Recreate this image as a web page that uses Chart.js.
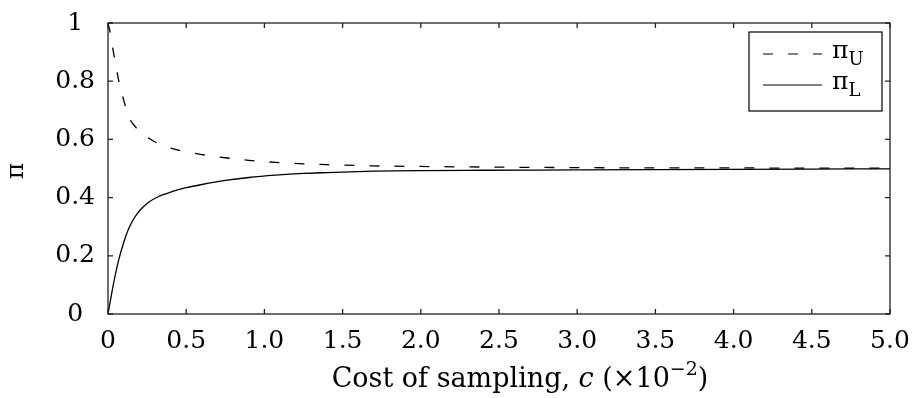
<!DOCTYPE html>
<html>
<head>
<meta charset="utf-8">
<script src="https://cdn.jsdelivr.net/npm/chart.js@4.4.1/dist/chart.umd.min.js"></script>
<style>
  html, body { margin: 0; padding: 0; background: #fff; }
  #wrap { width: 914px; height: 398px; }
</style>
</head>
<body>
<div id="wrap"><canvas id="piChart"></canvas></div>
<script>
'use strict';

// Cost of sampling c (x10^-2) and the two thresholds
var costValues = [0, 0.015, 0.036, 0.068, 0.10, 0.132, 0.174, 0.21, 0.26, 0.32, 0.37, 0.45, 0.5, 0.6,
                  0.75, 0.9, 1.07, 1.25, 1.4, 1.7, 2.0, 2.4, 3.0, 3.5, 4.0, 4.5, 5.0];
var piUpper    = [1.0, 0.965, 0.896, 0.804, 0.736, 0.678, 0.644, 0.623, 0.604, 0.586, 0.575, 0.563, 0.557, 0.548,
                  0.537, 0.528, 0.521, 0.516, 0.513, 0.509, 0.507, 0.505, 0.503, 0.502, 0.502, 0.501, 0.501];
var piLower    = [0, 0.045, 0.106, 0.185, 0.245, 0.293, 0.335, 0.360, 0.384, 0.403, 0.413, 0.427, 0.434, 0.445,
                  0.459, 0.469, 0.477, 0.483, 0.486, 0.491, 0.493, 0.494, 0.495, 0.496, 0.497, 0.498, 0.499];

var xTickLabels = ['0', '0.5', '1.0', '1.5', '2.0', '2.5', '3.0', '3.5', '4.0', '4.5', '5.0'];
var yTickLabels = ['0', '0.2', '0.4', '0.6', '0.8', '1'];

var FONT = 'DejaVu Serif';
var DASH = [10, 15];

function toPoints(xs, ys) {
    return xs.map(function (x, i) { return { x: x, y: ys[i] }; });
}

// Draw a run of text pieces with their own font / offset, starting at x
function drawRuns(ctx, runs, x, y) {
    runs.forEach(function (r) {
        ctx.font = r.font;
        ctx.fillText(r.text, x, y + (r.dy || 0));
        x += ctx.measureText(r.text).width;
    });
}

function runsWidth(ctx, runs) {
    var w = 0;
    runs.forEach(function (r) {
        ctx.font = r.font;
        w += ctx.measureText(r.text).width;
    });
    return w;
}

// Box, inward ticks on all four sides, axis titles and legend
var framePlugin = {
    id: 'frame',
    afterDraw: function (chart) {
        var ctx  = chart.ctx;
        var area = chart.chartArea;
        var xs   = chart.scales.x;
        var ys   = chart.scales.y;
        var tl   = 5;

        ctx.save();
        ctx.strokeStyle = '#222';
        ctx.lineWidth = 1.3;
        ctx.setLineDash([]);
        ctx.strokeRect(area.left, area.top, area.right - area.left, area.bottom - area.top);

        ctx.beginPath();
        xs.ticks.forEach(function (t) {
            var px = xs.getPixelForValue(t.value);
            ctx.moveTo(px, area.bottom); ctx.lineTo(px, area.bottom - tl);
            ctx.moveTo(px, area.top);    ctx.lineTo(px, area.top + tl);
        });
        ys.ticks.forEach(function (t) {
            var py = ys.getPixelForValue(t.value);
            ctx.moveTo(area.left, py);  ctx.lineTo(area.left + tl, py);
            ctx.moveTo(area.right, py); ctx.lineTo(area.right - tl, py);
        });
        ctx.stroke();

        // x title
        ctx.fillStyle = '#000';
        ctx.textAlign = 'left';
        ctx.textBaseline = 'alphabetic';
        var runs = [
            { text: 'Cost of sampling, ', font: '27px "' + FONT + '"' },
            { text: 'c', font: 'italic 27px "' + FONT + '"' },
            { text: ' (\u00d710', font: '27px "' + FONT + '"' },
            { text: '\u22122', font: '19px "' + FONT + '"', dy: -12 },
            { text: ')', font: '27px "' + FONT + '"' }
        ];
        var w = runsWidth(ctx, runs);
        drawRuns(ctx, runs, 520 - w / 2, 387);

        // y title
        ctx.save();
        ctx.translate(16, 171);
        ctx.rotate(-Math.PI / 2);
        ctx.font = '25px "' + FONT + '"';
        ctx.textAlign = 'center';
        ctx.textBaseline = 'middle';
        ctx.fillText('\u03c0', 0, 0);
        ctx.restore();

        // legend
        ctx.lineWidth = 1.2;
        ctx.strokeStyle = '#000';
        ctx.strokeRect(749, 32, 133, 79);
        var rows = [
            { sub: 'U', dash: DASH, y: 54 },
            { sub: 'L', dash: [], y: 85 }
        ];
        rows.forEach(function (r) {
            ctx.beginPath();
            ctx.setLineDash(r.dash);
            ctx.moveTo(763, r.y);
            ctx.lineTo(822, r.y);
            ctx.stroke();
            ctx.setLineDash([]);
            ctx.textAlign = 'left';
            drawRuns(ctx, [
                { text: '\u03c0', font: '25px "' + FONT + '"' },
                { text: r.sub, font: '18px "' + FONT + '"', dy: 7 }
            ], 832, r.y + 4);
        });
        ctx.restore();
    }
};

new Chart(document.getElementById('piChart'), {
    type: 'line',
    data: {
        datasets: [
            {
                label: '\u03c0U',
                data: toPoints(costValues, piUpper),
                borderColor: '#000',
                borderWidth: 1.3,
                borderDash: DASH,
                pointRadius: 0,
                cubicInterpolationMode: 'monotone',
                fill: false
            },
            {
                label: '\u03c0L',
                data: toPoints(costValues, piLower),
                borderColor: '#000',
                borderWidth: 1.3,
                pointRadius: 0,
                cubicInterpolationMode: 'monotone',
                fill: false
            }
        ]
    },
    options: {
        responsive: true,
        maintainAspectRatio: false,
        animation: false,
        layout: { padding: { top: 23, right: 24, left: 0, bottom: 0 } },
        plugins: {
            legend: { display: false },
            tooltip: { enabled: false }
        },
        scales: {
            x: {
                type: 'linear',
                min: 0,
                max: 5,
                grid: { display: false, drawTicks: false },
                border: { display: false },
                afterFit: function (s) {
                    s.height = 84;
                    s.paddingLeft = 0;
                    s.paddingRight = 0;
                },
                ticks: {
                    stepSize: 0.5,
                    padding: 12,
                    maxRotation: 0,
                    autoSkip: false,
                    color: '#000',
                    font: { family: FONT, size: 25 },
                    callback: function (v) { return xTickLabels[Math.round(v / 0.5)]; }
                }
            },
            y: {
                type: 'linear',
                min: 0,
                max: 1,
                grid: { display: false, drawTicks: false },
                border: { display: false },
                afterFit: function (s) {
                    s.width = 108;
                    s.paddingTop = 0;
                    s.paddingBottom = 0;
                },
                ticks: {
                    stepSize: 0.2,
                    padding: 13,
                    crossAlign: 'center',
                    color: '#000',
                    font: { family: FONT, size: 25 },
                    callback: function (v) { return yTickLabels[Math.round(v / 0.2)]; }
                }
            }
        }
    },
    plugins: [framePlugin]
});
</script>
</body>
</html>
